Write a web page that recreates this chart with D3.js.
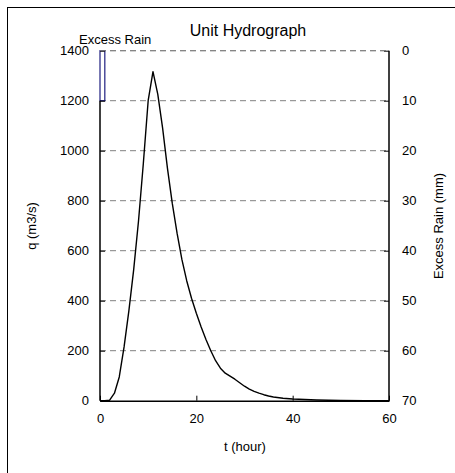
<!DOCTYPE html>
<html><head><meta charset="utf-8">
<script src="https://cdn.jsdelivr.net/npm/d3@7"></script>
<style>body{margin:0;background:#fff;}svg{display:block;font-family:"Liberation Sans",Arial,sans-serif;}</style>
</head><body>
<script>
const timeHours = [0,1,2,3,4,5,6,7,8,9,10,11,12,13,14,15,16,17,18,19,20,21,22,23,24,25,26,27,28,29,30,31,32,33,34,35,36,38,40,45,50,55,60];
const discharge = [0,0,2,30,95,215,360,525,720,950,1200,1316,1225,1090,930,790,670,565,480,410,350,295,245,200,160,130,110,98,86,72,58,46,37,30,24,19,15,10,7,3,1,0,0];
const rainStart = [0];
const rainEnd = [1];
const rainDepth = [10];
const qTicks = [0,200,400,600,800,1000,1200,1400];
const rainTicks = [0,10,20,30,40,50,60,70];
const tTicks = [0,20,40,60];

const W = 455, H = 473;
const L = 100, R = 389, T = 50.7, B = 400.7;
const svg = d3.select("body").append("svg").attr("width", W).attr("height", H);

svg.append("rect").attr("x", 7.5).attr("y", 7.5).attr("width", 460).attr("height", 480)
  .attr("fill", "none").attr("stroke", "#000").attr("stroke-width", 1);

const x = d3.scaleLinear().domain([0, 60]).range([L, R]);
const y = d3.scaleLinear().domain([0, 1400]).range([B, T]);
const y2 = d3.scaleLinear().domain([0, 70]).range([T, B]);
const fmt = d3.format("d");

// gridlines
svg.append("g").selectAll("line").data(qTicks.filter(d => d > 0)).join("line")
  .attr("x1", L).attr("x2", R).attr("y1", d => y(d)).attr("y2", d => y(d))
  .attr("stroke", "#808080").attr("stroke-width", 1).attr("stroke-dasharray", "6,4");

// curve
svg.append("path").datum(timeHours.map((t, i) => [t, discharge[i]]))
  .attr("d", d3.line().x(d => x(d[0])).y(d => y(d[1])))
  .attr("fill", "none").attr("stroke", "#000").attr("stroke-width", 1.4).attr("stroke-linejoin", "round");

// rain bars
svg.append("g").selectAll("rect").data(rainDepth).join("rect")
  .attr("x", (d, i) => x(rainStart[i])).attr("width", (d, i) => x(rainEnd[i]) - x(rainStart[i]))
  .attr("y", y2(0)).attr("height", d => y2(d) - y2(0))
  .attr("fill", "#fff").attr("stroke", "#1f1f80").attr("stroke-width", 1.2);

// axes
const ax = svg.append("g").attr("transform", `translate(0,${B})`)
  .call(d3.axisBottom(x).tickValues(tTicks).tickFormat(fmt).tickSizeInner(-5).tickSizeOuter(0).tickPadding(13));
const ay = svg.append("g").attr("transform", `translate(${L},0)`)
  .call(d3.axisLeft(y).tickValues(qTicks).tickFormat(fmt).tickSizeInner(-5).tickSizeOuter(0).tickPadding(11));
const ay2 = svg.append("g").attr("transform", `translate(${R},0)`)
  .call(d3.axisRight(y2).tickValues(rainTicks).tickFormat(fmt).tickSizeInner(-5).tickSizeOuter(0).tickPadding(13));
[ax, ay, ay2].forEach(g => {
  g.selectAll("text").attr("font-size", 13).attr("fill", "#000").attr("font-family", "Liberation Sans, Arial, sans-serif");
  g.selectAll("line").attr("stroke", "#000");
  g.select(".domain").attr("stroke", "#000").attr("stroke-width", 1.5);
});
ay.select(".domain").remove();
ay2.select(".domain").remove();
svg.append("line").attr("x1", L).attr("x2", L).attr("y1", y(1200)).attr("y2", B).attr("stroke", "#000").attr("stroke-width", 1.5);
svg.append("line").attr("x1", R).attr("x2", R).attr("y1", T).attr("y2", B).attr("stroke", "#000").attr("stroke-width", 1.5);
svg.append("line").attr("x1", L).attr("x2", R).attr("y1", T).attr("y2", T)
  .attr("stroke", "#808080").attr("stroke-dasharray", "6,4");

// labels
svg.append("text").attr("x", 248).attr("y", 36).attr("text-anchor", "middle").attr("font-size", 16).text("Unit Hydrograph");
svg.append("text").attr("x", 245).attr("y", 451).attr("text-anchor", "middle").attr("font-size", 13).text("t (hour)");
svg.append("text").attr("transform", "translate(36,226) rotate(-90)").attr("text-anchor", "middle").attr("font-size", 13).text("q (m3/s)");
svg.append("text").attr("transform", "translate(443,226) rotate(-90)").attr("text-anchor", "middle").attr("font-size", 13).text("Excess Rain (mm)");
svg.append("text").attr("x", 79).attr("y", 44).attr("font-size", 13).text("Excess Rain");
</script>
</body></html>
